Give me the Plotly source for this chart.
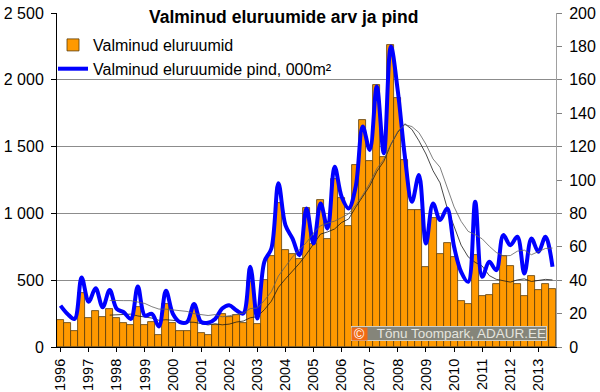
import plotly.graph_objects as go
import pandas as pd

# Quarterly data 1996 Q1 .. 2013 Q3
quarters = [f"{y} Q{q}" for y in range(1996, 2014) for q in range(1, 5)][:71]

dwellings = [205, 181, 121, 406, 215, 270, 225, 285, 218, 183, 166, 297,
             168, 190, 92, 319, 183, 119, 119, 290, 106, 92, 168, 250,
             225, 242, 180, 487, 175, 504, 681, 1078, 729, 694, 662, 1040,
             774, 1103, 811, 1255, 1118, 903, 1365, 1702, 1390, 1959, 1425, 2261,
             1863, 1400, 1027, 1022, 600, 962, 695, 782, 670, 342, 325, 690,
             382, 392, 470, 680, 605, 475, 385, 535, 425, 475, 437]

area = [24.8, 19.8, 16.8, 41.6, 27.1, 35.2, 23.8, 34.1, 22.8, 20.8, 16.8, 36.2,
        18.8, 19.8, 12.3, 33.7, 19.8, 14.9, 14.9, 25.7, 15.0, 14.5, 16.8, 23.0,
        25.0, 22.0, 20.0, 48.0, 17.0, 51.0, 59.0, 98.0, 73.0, 65.0, 55.0, 83.0,
        62.0, 86.0, 71.0, 108.0, 90.0, 83.0, 96.0, 132.0, 118.0, 156.0, 116.0, 180.0,
        153.0, 114.0, 87.0, 103.0, 62.0, 86.0, 76.0, 83.0, 60.0, 45.0, 39.0, 87.0,
        42.0, 51.0, 46.0, 67.0, 61.0, 66.0, 44.0, 65.0, 57.0, 66.0, 48.0]

year_labels = [str(y) for y in range(1996, 2014)]
left_ticks = [0, 500, 1000, 1500, 2000, 2500]
left_tick_text = ["0", "500", "1 000", "1 500", "2 000", "2 500"]
right_ticks = list(range(0, 201, 20))

x = list(range(len(quarters)))
year_pos = [x[i] for i in range(0, len(quarters), 4)]

# 8-quarter moving-average trendlines (as in the source chart)
ma_dw = pd.Series(dwellings).rolling(8).mean()
ma_ar = pd.Series(area).rolling(8).mean()

FONT = "Liberation Sans, Arial, sans-serif"

fig = go.Figure()
fig.add_trace(go.Bar(
    x=x, y=dwellings, name="Valminud eluruumid",
    marker=dict(color="#FF9900", line=dict(color="#5a3c0a", width=0.8)),
    hovertext=quarters, legendgroup="a",
))
fig.add_trace(go.Scatter(
    x=x, y=area, name="Valminud eluruumide pind, 000m²", yaxis="y2",
    mode="lines", line=dict(color="#0000FF", width=4, shape="spline", smoothing=1),
    hovertext=quarters, legendgroup="b",
))
fig.add_trace(go.Scatter(
    x=x, y=ma_dw, yaxis="y", mode="lines", showlegend=False,
    line=dict(color="#1a1a1a", width=0.8),
))
fig.add_trace(go.Scatter(
    x=x, y=ma_ar, yaxis="y2", mode="lines", showlegend=False,
    line=dict(color="#606060", width=0.8),
))

W0, W1, H0, H1 = 57, 556, 13, 347
def px(v):
    return (v - W0) / (W1 - W0)
def py(v):
    return (H1 - v) / (H1 - H0)

fig.update_layout(
    width=600, height=392,
    margin=dict(l=W0, r=600 - W1, t=H0, b=392 - H1, pad=0, autoexpand=False),
    paper_bgcolor="white", plot_bgcolor="white",
    font=dict(family=FONT, size=16, color="black"),
    bargap=0,
    showlegend=True,
    legend=dict(x=px(53), y=py(28), xanchor="left", yanchor="top",
                bgcolor="rgba(0,0,0,0)", font=dict(size=16), tracegroupgap=0,
                itemwidth=30, borderwidth=0),
    xaxis=dict(range=[-0.5, len(x) - 0.5], tickmode="array", tickvals=year_pos,
               ticktext=year_labels, tickangle=-90, showgrid=False,
               showline=True, linecolor="black", linewidth=1,
               ticks="outside", ticklen=4, tickcolor="black", automargin=False,
               ticklabelstandoff=1, tickfont=dict(size=14.5), zeroline=False),
    yaxis=dict(range=[0, 2500], tickmode="array", tickvals=left_ticks,
               ticktext=left_tick_text, showgrid=True, gridcolor="#8c8c8c",
               gridwidth=1, showline=True, linecolor="black", linewidth=1,
               ticks="outside", ticklen=5, tickcolor="black", automargin=False,
               ticklabelstandoff=4, zeroline=False, tickfont=dict(size=16)),
    yaxis2=dict(range=[0, 200], overlaying="y", side="right", tickmode="array",
                tickvals=right_ticks, showgrid=False, showline=True,
                linecolor="#a0a0a0", linewidth=1, ticks="outside", ticklen=5,
                tickcolor="#808080", ticklabelstandoff=4, zeroline=False,
                automargin=False, tickfont=dict(size=16)),
    shapes=[
        # white backing of the legend box, hiding the grid line behind it
        dict(type="rect", layer="between", xref="paper", yref="paper",
             x0=px(57.8), x1=px(330), y0=py(84), y1=py(28),
             fillcolor="white", line=dict(width=0)),
    ],
    annotations=[
        dict(text="<b>Valminud eluruumide arv ja pind</b>", xref="paper", yref="paper",
             x=px(283), y=py(17.5), xanchor="center", yanchor="middle",
             showarrow=False, bgcolor="white", font=dict(size=17.5, color="black")),
        dict(text="Tõnu Toompark, ADAUR.EE", xref="paper", yref="paper",
             x=px(449), y=py(333.7), xanchor="center", yanchor="middle",
             width=194, height=13, align="right", showarrow=False,
             bgcolor="#85857a", bordercolor="#cfcfc8", borderwidth=1, borderpad=0,
             font=dict(size=13.5, color="#e4e4de")),
        dict(text="©", xref="paper", yref="paper",
             x=px(359.5), y=py(333.7), xanchor="center", yanchor="middle",
             width=15, height=12, showarrow=False, bgcolor="#f06a14",
             borderpad=0, font=dict(size=14, color="white")),
    ],
)

fig.write_html(
    "out.html",
    config={"displayModeBar": False},
    post_script="document.body.style.margin='0px';document.body.style.padding='0px';",
)
